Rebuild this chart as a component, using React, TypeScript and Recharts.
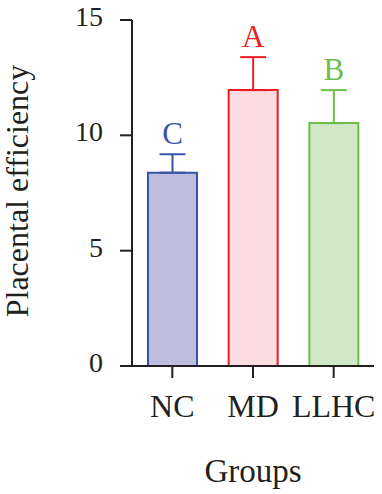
import { Bar, BarChart, Cell, ErrorBar, LabelList, XAxis, YAxis } from 'recharts'

// values
const groups = ['NC', 'MD', 'LLHC']
const means = [8.38, 11.96, 10.53]
const sds = [0.8, 1.43, 1.43]
const letters = ['C', 'A', 'B']
const yTicks = [0, 5, 10, 15]

const strokes = ['#3953a4', '#ed1c24', '#6cbf4a']
const fills = ['#bebde0', '#fcdde2', '#d0e8c6']
const ink = '#231f20'
const font = '"Liberation Serif", "Times New Roman", serif'

const data = groups.map((g, i) => ({
  group: g,
  mean: means[i],
  letter: letters[i],
  // one error key per group so each gets its own colour
  err0: i === 0 ? [0, sds[0]] : null,
  err1: i === 1 ? [0, sds[1]] : null,
  err2: i === 2 ? [0, sds[2]] : null,
}))

// letter above each error cap
const LetterLabel = (props: any) => {
  const { x, y, width, height, value, index } = props
  const perUnit = height / means[index]
  const capY = y - sds[index] * perUnit
  return (
    <text x={x + width / 2} y={capY - 10} textAnchor="middle" fill={strokes[index]} fontSize={31} fontFamily={font}>
      {value}
    </text>
  )
}

const XTick = (props: any) => {
  const { x, y, payload } = props
  return (
    <text x={x} y={y + 23} textAnchor="middle" fill={ink} fontSize={32} fontFamily={font}>
      {payload.value}
    </text>
  )
}

const YTick = (props: any) => {
  const { x, y, payload } = props
  return (
    <text x={x} y={y + 6} textAnchor="end" fill={ink} fontSize={28} fontFamily={font}>
      {payload.value}
    </text>
  )
}

const XTitle = (props: any) => {
  const { viewBox } = props
  return (
    <text x={viewBox.x + viewBox.width / 2} y={viewBox.y + 116} textAnchor="middle" fill={ink} fontSize={33} fontFamily={font}>
      Groups
    </text>
  )
}

const YTitle = (props: any) => {
  const { viewBox } = props
  const cx = 28
  const cy = viewBox.y + viewBox.height / 2 - 2
  return (
    <text x={cx} y={cy} transform={`rotate(-90, ${cx}, ${cy})`} textAnchor="middle" fill={ink} fontSize={32} fontFamily={font}>
      Placental efficiency
    </text>
  )
}

export default function App() {
  return (
    <div style={{ position: 'absolute', left: 0, top: 0, width: 382, height: 494, background: '#fff', fontFamily: font }}>
      <BarChart width={382} height={494} data={data} margin={{ top: 20, right: 8, left: 0, bottom: 0 }} barSize={49} style={{ fontFamily: font }}>
        <XAxis
          dataKey="group"
          height={128}
          tickSize={12}
          tickMargin={16}
          axisLine={{ stroke: ink, strokeWidth: 2 }}
          tickLine={{ stroke: ink, strokeWidth: 2 }}
          tick={<XTick />}
          label={<XTitle />}
        />
        <YAxis
          domain={[0, 15]}
          ticks={yTicks}
          width={132}
          tickSize={12}
          tickMargin={17}
          axisLine={{ stroke: ink, strokeWidth: 2 }}
          tickLine={{ stroke: ink, strokeWidth: 2 }}
          tick={<YTick />}
          label={<YTitle />}
        />
        <Bar dataKey="mean" strokeWidth={2} isAnimationActive={false}>
          {data.map((d, i) => (
            <Cell key={d.group} fill={fills[i]} stroke={strokes[i]} />
          ))}
          <ErrorBar dataKey="err0" direction="y" width={13} stroke={strokes[0]} strokeWidth={2} />
          <ErrorBar dataKey="err1" direction="y" width={13} stroke={strokes[1]} strokeWidth={2} />
          <ErrorBar dataKey="err2" direction="y" width={13} stroke={strokes[2]} strokeWidth={2} />
          <LabelList dataKey="letter" content={<LetterLabel />} />
        </Bar>
      </BarChart>
    </div>
  )
}
